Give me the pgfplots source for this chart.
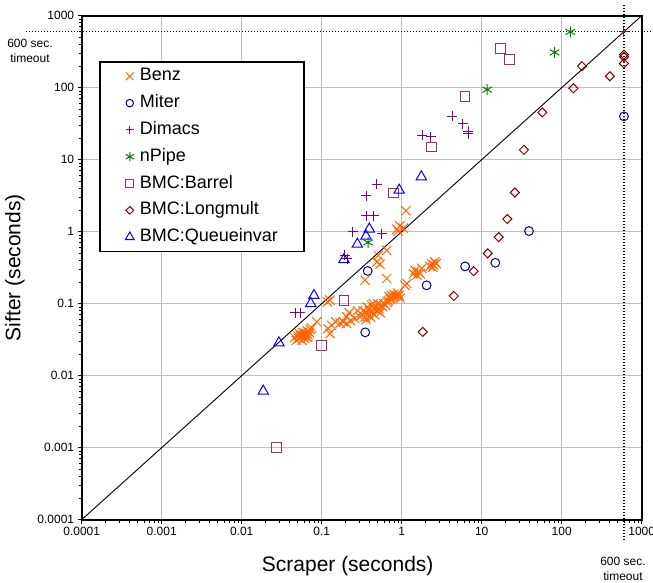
\documentclass[border=0pt]{standalone}
\usepackage{fontspec}
\setmainfont{Liberation Sans}
\usepackage{pgfplots}
\pgfplotsset{compat=1.18}

\definecolor{cbenz}{HTML}{FF6600}
\definecolor{cmiter}{HTML}{000080}
\definecolor{cdimacs}{HTML}{800080}
\definecolor{cnpipe}{HTML}{008000}
\definecolor{cbarrel}{HTML}{993366}
\definecolor{clong}{HTML}{800000}
\definecolor{cqueue}{HTML}{0000FF}

\begin{document}
\begin{tikzpicture}
\begin{axis}[
    name=ax,
    scale only axis,
    width=560pt, height=504pt,
    xmode=log, ymode=log,
    xmin=1e-4, xmax=1e3, ymin=1e-4, ymax=1e3,
    xtick={1e-4,1e-3,1e-2,1e-1,1,10,100,1000},
    xticklabels={0.0001,0.001,0.01,0.1,1,10,100,1000},
    ytick={1e-4,1e-3,1e-2,1e-1,1,10,100,1000},
    yticklabels={0.0001,0.001,0.01,0.1,1,10,100,1000},
    minor xtick={2e-4,3e-4,4e-4,5e-4,6e-4,7e-4,8e-4,9e-4,2e-3,3e-3,4e-3,5e-3,6e-3,7e-3,8e-3,9e-3,0.02,0.03,0.04,0.05,0.06,0.07,0.08,0.09,0.2,0.3,0.4,0.5,0.6,0.7,0.8,0.9,2,3,4,5,6,7,8,9,20,30,40,50,60,70,80,90,200,300,400,500,600,700,800,900},
    minor ytick={2e-4,3e-4,4e-4,5e-4,6e-4,7e-4,8e-4,9e-4,2e-3,3e-3,4e-3,5e-3,6e-3,7e-3,8e-3,9e-3,0.02,0.03,0.04,0.05,0.06,0.07,0.08,0.09,0.2,0.3,0.4,0.5,0.6,0.7,0.8,0.9,2,3,4,5,6,7,8,9,20,30,40,50,60,70,80,90,200,300,400,500,600,700,800,900},
    tick pos=left, tick align=outside,
    major tick length=4pt, minor tick length=3pt,
    every tick/.style={black, line width=0.8pt},
    grid=major,
    major grid style={black!25, line width=1pt},
    axis line style={line width=1.8pt},
    tick label style={font=\fontsize{12}{14}\selectfont},
    xlabel={Scraper (seconds)}, ylabel={Sifter (seconds)},
    label style={font=\fontsize{21}{24}\selectfont},
    xlabel style={at={(axis description cs:0.475,-0.092)}, anchor=center},
    ylabel style={at={(axis description cs:-0.119,0.5)}, anchor=center},
    clip=false,
    legend cell align=left,
    legend image code/.code={%
        \draw[#1, every mark/.append style={scale=0.85}] plot coordinates {(0pt,0pt)};
        \path[draw=none, fill=none] (-7pt,-1pt) rectangle (7pt,1pt);},
    legend style={at={(axis description cs:0.0309,0.9101)}, anchor=north west,
        draw=black, line width=1.6pt, inner xsep=23pt, inner ysep=6pt,
        row sep=9.8pt, font=\fontsize{18}{20}\selectfont,
        nodes={inner xsep=3pt, inner ysep=0pt, text height=13pt, text depth=4pt}},
]
% diagonal y = x
\addplot[black, line width=0.9pt, forget plot] coordinates {(0.0001,0.0001) (1000,1000)};

\addplot[only marks, mark=x, mark size=6.5pt, color=cbenz, mark options={line width=1pt}] coordinates {
(0.046,0.034) (0.048,0.031) (0.050,0.036) (0.052,0.033) (0.053,0.038) (0.055,0.035)
(0.057,0.031) (0.058,0.040) (0.060,0.036) (0.061,0.033) (0.063,0.039) (0.064,0.035)
(0.066,0.042) (0.068,0.037) (0.070,0.040) (0.072,0.044) (0.075,0.046) (0.056,0.037)
(0.062,0.038) (0.067,0.034)
(0.087,0.056) (0.12,0.045) (0.127,0.0385) (0.133,0.050) (0.118,0.106) (0.127,0.112)
(0.15,0.056) (0.17,0.054) (0.186,0.056) (0.205,0.053) (0.205,0.066) (0.23,0.058)
(0.26,0.062) (0.30,0.066) (0.22,0.075) (0.28,0.08)
(0.32,0.07) (0.33,0.08) (0.35,0.065) (0.36,0.075) (0.37,0.09) (0.38,0.07) (0.40,0.08)
(0.41,0.065) (0.42,0.095) (0.43,0.075) (0.45,0.085) (0.46,0.07) (0.48,0.09) (0.49,0.08)
(0.50,0.10) (0.52,0.085) (0.54,0.075) (0.55,0.095) (0.58,0.09) (0.60,0.10) (0.63,0.095)
(0.66,0.105) (0.36,0.06) (0.44,0.10) (0.39,0.085)
(0.68,0.11) (0.70,0.125) (0.73,0.12) (0.75,0.13) (0.78,0.12) (0.80,0.135) (0.83,0.125)
(0.87,0.13) (0.90,0.14) (0.93,0.13) (0.96,0.12) (0.72,0.115)
(1.1,0.18) (1.16,0.19) (1.40,0.26) (1.47,0.29) (1.55,0.25) (1.61,0.277) (1.7,0.26)
(1.78,0.31) (2.26,0.33) (2.37,0.36) (2.45,0.32) (2.6,0.38) (2.7,0.36) (2.5,0.345)
(0.348,0.212) (0.65,0.224) (0.49,0.38) (0.535,0.354) (0.51,0.47) (0.65,0.55)
(0.87,1.08) (0.95,1.2) (1.05,1.12) (1.13,1.95) (0.90,1.02)
};
\addlegendentry{Benz}

\addplot[only marks, mark=o, mark size=4.4pt, color=cmiter, mark options={line width=1pt}] coordinates {
(0.376,0.285) (0.35,0.04) (2.05,0.18) (6.2,0.33) (14.8,0.37) (39,1.02) (600,40)
};
\addlegendentry{Miter}

\addplot[only marks, mark=+, mark size=5pt, color=cdimacs, mark options={line width=1pt}] coordinates {
(0.0464,0.0745) (0.054,0.0745) (0.195,0.47) (0.21,0.42) (0.246,1.0) (0.358,1.66)
(0.45,1.66) (0.358,3.14) (0.487,4.57) (0.567,0.94) (1.81,21.9) (2.32,20.7)
(4.3,40) (5.8,31.8) (6.8,25) (6.8,23) (600,600)
};
\addlegendentry{Dimacs}

\addplot[only marks, mark=asterisk, mark size=5.5pt, color=cnpipe, mark options={line width=1pt}] coordinates {
(0.38,0.71) (11.7,94) (81.5,309) (128,596)
};
\addlegendentry{nPipe}

\addplot[only marks, mark=square, mark size=4.8pt, color=cbarrel, mark options={line width=1pt}] coordinates {
(0.0274,0.001) (0.1,0.0265) (0.19,0.11) (0.785,3.46) (2.37,15) (6.2,76) (17.3,350) (22.4,247)
};
\addlegendentry{BMC:Barrel}

\addplot[only marks, mark=square, mark size=3.2pt, color=clong, mark options={line width=1pt, rotate=45}] coordinates {
(1.83,0.0406) (4.47,0.128) (7.94,0.283) (11.9,0.50) (16.3,0.84) (20.9,1.5) (26,3.5)
(33.7,13.7) (57.2,45.3) (140,98) (179,199) (400,144) (600,217) (600,268) (600,288)
};
\addlegendentry{BMC:Longmult}

\addplot[only marks, mark=triangle, mark size=6pt, color=cqueue, mark options={line width=1pt}] coordinates {
(0.0186,0.0061) (0.0292,0.0286) (0.0729,0.1006) (0.080,0.13) (0.19,0.41) (0.279,0.67)
(0.358,0.866) (0.394,1.09) (0.93,3.77) (1.76,5.77)
};
\addlegendentry{BMC:Queueinvar}

% 600 s timeout marks
\draw[black, line width=1.2pt, dash pattern=on 1.2pt off 1.8pt] (axis cs:2e-5,600) -- (axis cs:1300,600);
\draw[black, line width=1.2pt, dash pattern=on 1.2pt off 1.8pt] (axis cs:600,1400) -- (axis cs:600,5.2e-5);
\node[align=center, font=\fontsize{12}{15}\selectfont] at (axis description cs:-0.0923,0.93) {600 sec.\\timeout};
\node[align=center, font=\fontsize{12}{15}\selectfont] at (axis description cs:0.9666,-0.0978) {600 sec.\\timeout};
\end{axis}
\pgfresetboundingbox
\path[use as bounding box] ([xshift=-81.7pt,yshift=-63.3pt]ax.south west) rectangle ([xshift=11.3pt,yshift=15.7pt]ax.north east);
\end{tikzpicture}
\end{document}
